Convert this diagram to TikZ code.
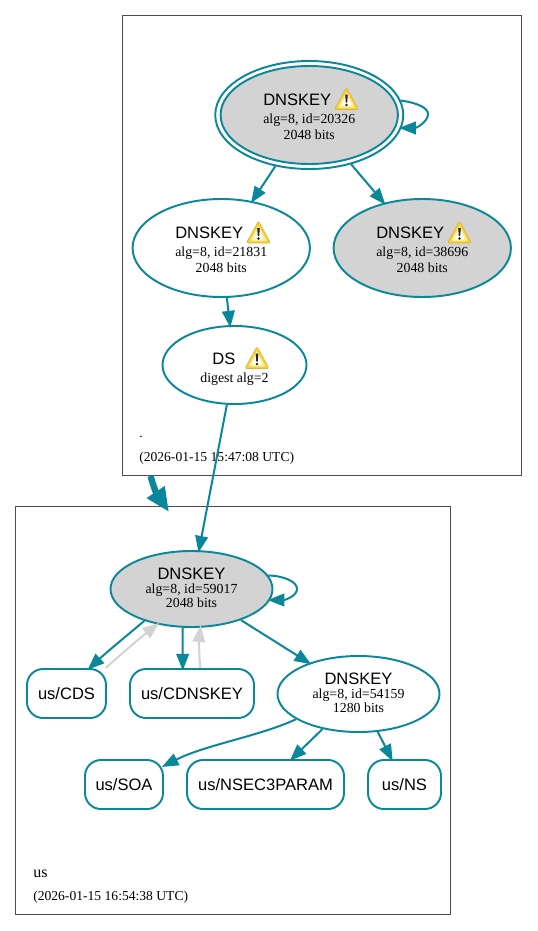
\documentclass[tikz,border=0pt]{standalone}
\usepackage{fontspec}
\setmainfont{Liberation Serif}
\newfontfamily\arialf{Liberation Sans}
\usetikzlibrary{shapes.geometric,arrows.meta}
\definecolor{tealc}{HTML}{0A879A}
\definecolor{greyf}{HTML}{D3D3D3}
\definecolor{clus}{HTML}{4D4D4D}
\definecolor{warnY}{HTML}{F5D336}
\definecolor{warnE}{HTML}{E0B040}
\definecolor{warnL}{HTML}{FBEE9C}
\newcommand{\biglab}[1]{{\arialf\fontsize{12.4}{14}\selectfont #1}}
\newcommand{\smalllab}[1]{{\fontsize{10.4}{13}\selectfont #1}}
% root-zone keys: wide first gap, usable with a warning sign beside the title
\newcommand{\keytext}[3]{\rule{0pt}{11.2pt}\biglab{DNSKEY}#3\\[1.5pt]\smalllab{alg=8, id=#1}\\[-0.5pt]\smalllab{#2 bits}}
% us-zone keys: tighter first gap
\newcommand{\keytextb}[2]{\rule{0pt}{10pt}\biglab{DNSKEY}\\[-1.5pt]\smalllab{alg=8, id=#1}\\[-1.5pt]\smalllab{#2 bits}\rule[-3.5pt]{0pt}{1pt}}
\tikzset{
  kell/.style={ellipse,draw=tealc,line width=1.45pt,inner sep=0pt,align=center,text=black},
  kfill/.style={kell,fill=greyf},
  rr/.style={draw=tealc,line width=1.45pt,rounded corners=12pt,inner sep=0pt,minimum height=36.75pt,font=\arialf\fontsize{12.4}{14}\selectfont},
  clusterbox/.style={draw=clus,line width=0.7pt,inner sep=0pt,fill=none},
  lab/.style={anchor=west,inner sep=0pt,font=\fontsize{10.2}{12}\selectfont},
  edgeT/.style={draw=tealc,line width=1.5pt,shorten >=-1.8pt,-{Triangle[length=12.5pt,width=9.5pt]}},
  edgeG/.style={draw=greyf,line width=1.5pt,shorten >=-1.8pt,-{Triangle[length=12.5pt,width=9.5pt]}},
  warn/.pic={
    \fill[warnY,draw=warnE,line width=0.5pt,line join=round,rounded corners=1.5pt] (0,-11.5) -- (12,10.5) -- (-12,10.5) -- cycle;
    \fill[warnL,rounded corners=1pt] (0,-7) -- (8.5,8.5) -- (-8.5,8.5) -- cycle;
    \fill[white,rounded corners=1pt] (0,-3.5) -- (5.5,6.5) -- (-5.5,6.5) -- cycle;
    \fill[black!85] (-1.3,-4.5) -- (1.3,-4.5) -- (0.7,3.5) -- (-0.7,3.5) -- cycle;
    \fill[black!85] (0,6) circle (1.3);
  }
}
\begin{document}
\begin{tikzpicture}[x=0.75pt,y=-0.75pt]
\useasboundingbox (0,0) rectangle (537,931);
% clusters
\node[clusterbox,minimum width=299.25pt,minimum height=345pt] (rootc) at (322,245.75) {};
\node[clusterbox,minimum width=326.25pt,minimum height=306pt] (usc) at (233,710.25) {};
\node[lab] (rootname) at (139,437) {.};
\node[lab] (rootdate) at (139,458.5) {(2026-01-15 15:47:08 UTC)};
\node[lab,font=\fontsize{12}{14}\selectfont] (usname) at (33,874) {us};
\node[lab] (usdate) at (33,897.5) {(2026-01-15 16:54:38 UTC)};
% root zone
\node[kell,fill=none,minimum width=141pt,minimum height=81pt] (k20326o) at (309.25,115) {};
\node[kfill,minimum width=133pt,minimum height=73.5pt] (k20326) at (309.25,115) {\keytext{20326}{2048}{\hspace*{18pt}}};
\node[kell,minimum width=133pt,minimum height=73.5pt] (k21831) at (221.25,248) {\keytext{21831}{2048}{\hspace*{18pt}}};
\node[kfill,minimum width=133pt,minimum height=73.5pt] (k38696) at (422.25,248) {\keytext{38696}{2048}{\hspace*{18pt}}};
\node[kell,minimum width=108pt,minimum height=58.5pt] (ds) at (234.5,365) {\rule{0pt}{15pt}\biglab{DS}\hspace*{16pt}\\[2pt]\smalllab{digest alg=2}};
\pic at (346.5,99) {warn};
\pic at (258.5,232.5) {warn};
\pic at (459.5,232.5) {warn};
\pic at (257,358) {warn};
% us zone
\node[kfill,minimum width=121.5pt,minimum height=57pt] (k59017) at (191.5,589) {\keytextb{59017}{2048}};
\node[kell,minimum width=121.5pt,minimum height=57pt] (k54159) at (358.5,694) {\keytextb{54159}{1280}};
\node[rr,minimum width=59.25pt] (cds) at (66.5,693.5) {us/CDS};
\node[rr,minimum width=93pt] (cdnskey) at (192,693.5) {us/CDNSKEY};
\node[rr,minimum width=58.5pt] (soa) at (124,784.5) {us/SOA};
\node[rr,minimum width=117.75pt] (nsec) at (265.5,784.5) {us/NSEC3PARAM};
\node[rr,minimum width=54.75pt] (ns) at (404.5,784.5) {us/NS};
% connectors
\draw[edgeT] (k20326o.9.5) .. controls (418,103) and (428,108) .. (428,114) .. controls (428,122) and (416,128) .. (k20326o.-8.7);
\draw[edgeT] (k20326o) -- (k21831);
\draw[edgeT] (k20326o) -- (k38696);
\draw[edgeT] (k21831) -- (ds);
\draw[edgeT] (ds) -- (k59017);
\coordinate (thickA) at (150.5,476);
\coordinate (thickB) at (169,512);
\draw[draw=tealc,line width=4.8pt,-{Triangle[length=18pt,width=15pt]}] (thickA) .. controls (153,484) and (155,491) .. (thickB);
\draw[edgeT] (k59017.10.4) .. controls (285,576) and (297,582) .. (297,589) .. controls (297,596) and (285,600) .. (k59017.-8.7);
\draw[edgeT] (k59017.214.9) .. controls (130,633) and (108,651) .. (cds.48.7);
\draw[edgeG] (cds.33.9) .. controls (120,655) and (140,638) .. (k59017.226.3);
\draw[edgeT] (k59017.257.4) -- (cdnskey.110.5);
\draw[edgeG] (cdnskey.72) .. controls (199,655) and (199,640) .. (k59017.283.7);
\draw[edgeT] (k59017) -- (k54159);
\draw[edgeT] (k54159.202.3) .. controls (260,736) and (205,745) .. (soa.25.3);
\draw[edgeT] (k54159) -- (nsec);
\draw[edgeT] (k54159) -- (ns);
\end{tikzpicture}
\end{document}
